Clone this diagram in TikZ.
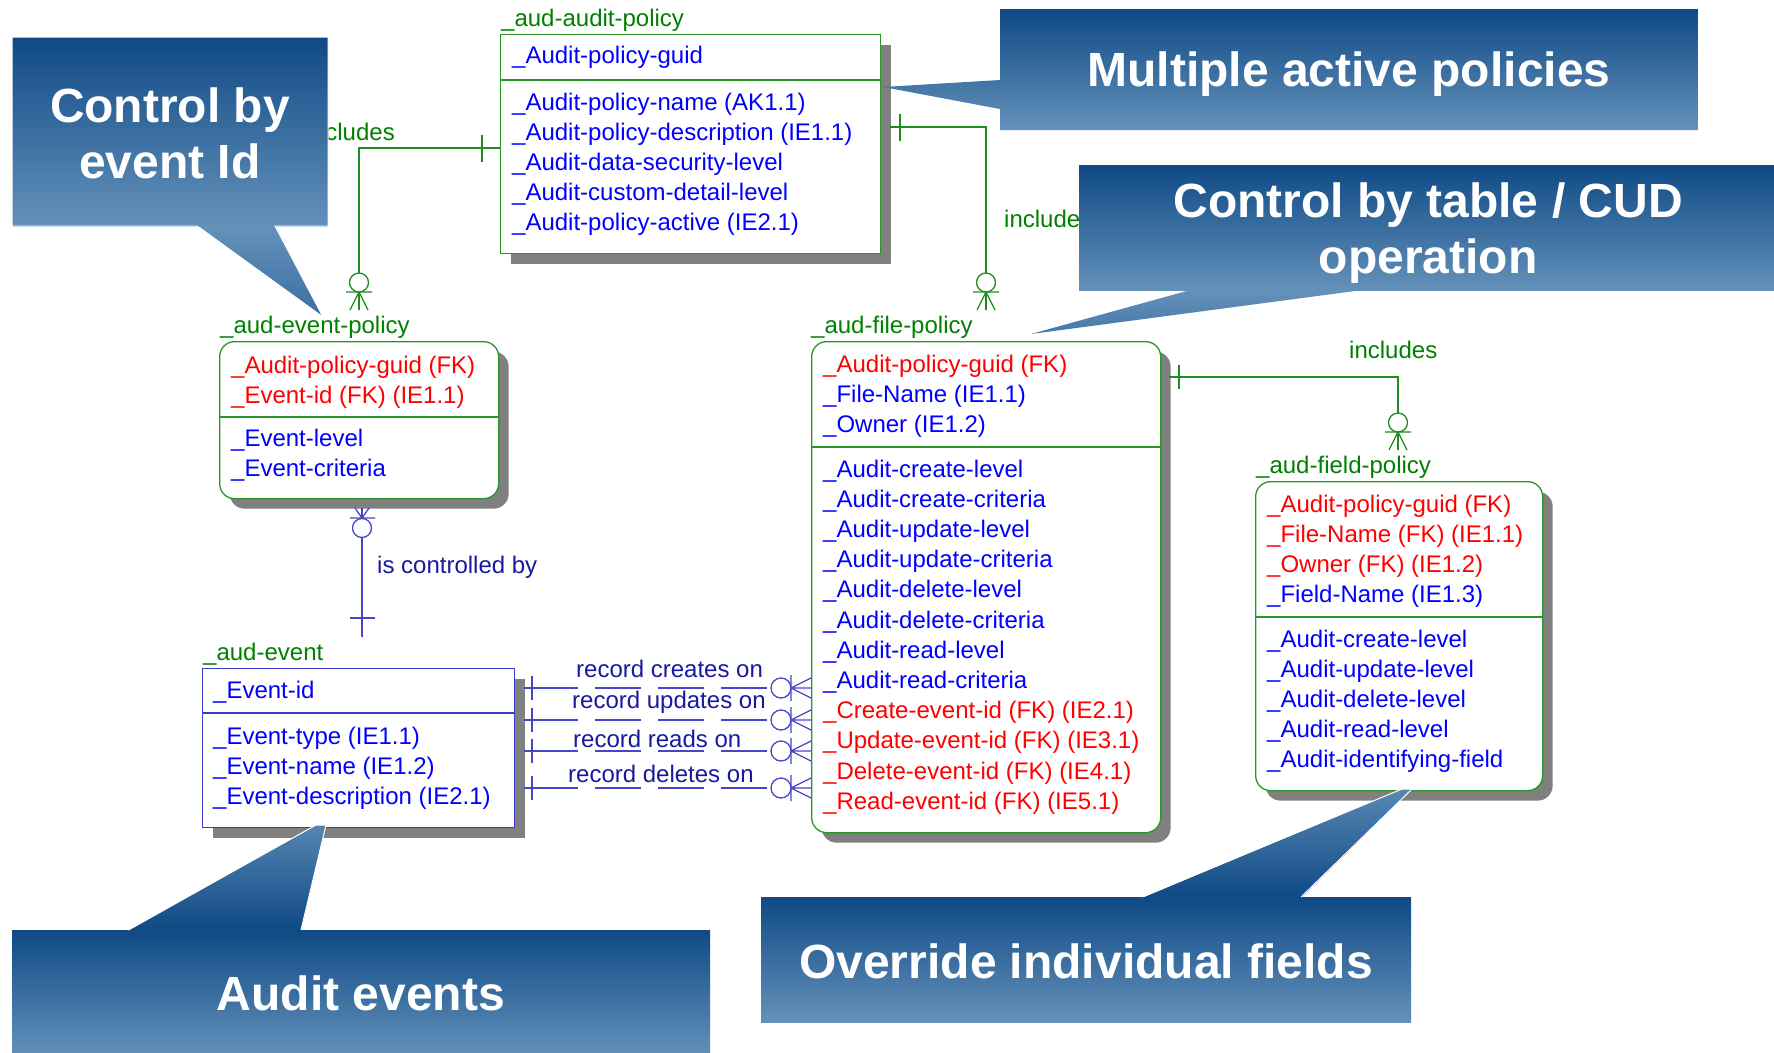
\documentclass[tikz,border=0pt]{standalone}
\usepackage{fontspec}
\setmainfont{Liberation Sans}
\usetikzlibrary{shadows}

\definecolor{entgreen}{RGB}{40,150,40}
\definecolor{ergreen}{RGB}{0,128,0}
\definecolor{attrblue}{RGB}{0,0,255}
\definecolor{attrred}{RGB}{255,0,0}
\definecolor{entblue}{RGB}{60,60,200}
\definecolor{relgreen}{RGB}{30,140,30}
\definecolor{relline}{RGB}{70,70,200}
\definecolor{relnavy}{RGB}{25,25,160}
\definecolor{shadowgray}{RGB}{128,128,128}
\definecolor{calldark}{RGB}{15,74,133}
\definecolor{calllight}{RGB}{100,145,186}

\tikzset{
  attr/.style={font=\fontsize{24}{30}\selectfont, inner sep=0pt, anchor=base west},
  entbox/.style={draw=entgreen, fill=white, line width=1.3pt, inner sep=0pt,
    anchor=north west,
    drop shadow={shadow xshift=10pt, shadow yshift=-10pt, fill=shadowgray, opacity=1}},
  roundbox/.style={entbox, rounded corners=15pt},
  divider/.style={line width=1.3pt},
  grrel/.style={draw=relgreen, line width=1.3pt},
  nvrel/.style={draw=relline, line width=1.3pt},
  calltext/.style={font=\fontsize{48}{56}\selectfont\bfseries, text=white,
    inner sep=0pt, anchor=base},
  callrim/.style={draw=white, line width=1pt},
}

% one attribute line: name, x, baseline y, colour, text
\newcommand{\attrline}[5]{\node[attr, text=#4] (#1) at (#2,#3) {#5};}
% zero-or-more end, entity edge below the line end at (x,y)
\newcommand{\zmDown}[3]{%
  \draw[#1] (#2-9,#3) -- (#2,#3-18) -- (#2+9,#3) (#2,#3) -- (#2,#3-18)
            (#2-13,#3-18) -- (#2+13,#3-18);
  \draw[#1, fill=white] (#2,#3-27.5) circle[radius=9.5pt];}
% zero-or-more end, entity edge to the right of the line end at (x,y)
\newcommand{\zmRight}[3]{%
  \draw[#1] (#2,#3-10) -- (#2-20,#3) -- (#2,#3+10) (#2-20,#3) -- (#2,#3)
            (#2-20,#3-13) -- (#2-20,#3+13);
  \draw[#1, fill=white] (#2-30,#3) circle[radius=10pt];}

\begin{document}
\begin{tikzpicture}[x=1pt,y=-1pt]
\useasboundingbox (0,0) rectangle (1774,1052);
\clip (0,0) rectangle (1774,1052);
\fill[white] (0,0) rectangle (1774,1052);

% ---------------- entity boxes ----------------
\node[entbox, minimum width=380pt, minimum height=219pt] (ap) at (500,34) {};
\node[roundbox, minimum width=279pt, minimum height=157pt] (ep) at (219,341) {};
\node[entbox, draw=entblue, minimum width=312pt, minimum height=159pt] (ev) at (202,668) {};
\node[roundbox, minimum width=349pt, minimum height=491pt] (fp) at (811,341) {};
\node[roundbox, minimum width=287pt, minimum height=309pt] (fd) at (1255,481) {};

\draw[divider, entgreen] (500,80) -- (880,80);
\draw[divider, entgreen] (219,417) -- (498,417);
\draw[divider, entblue] (202,713) -- (514,713);
\draw[divider, entgreen] (811,447) -- (1160,447);
\draw[divider, entgreen] (1255,617) -- (1542,617);

% ---------------- entity names ----------------
\attrline{apname}{501}{27}{ergreen}{\_aud-audit-policy}
\attrline{epname}{220}{333}{ergreen}{\_aud-event-policy}
\attrline{evname}{203}{660}{ergreen}{\_aud-event}
\attrline{fpname}{811}{333}{ergreen}{\_aud-file-policy}
\attrline{fdname}{1256}{473}{ergreen}{\_aud-field-policy}

% ---------------- attributes ----------------
\attrline{ap1}{512}{63}{attrblue}{\_Audit-policy-guid}
\attrline{ap2}{512}{110}{attrblue}{\_Audit-policy-name (AK1.1)}
\attrline{ap3}{512}{140}{attrblue}{\_Audit-policy-description (IE1.1)}
\attrline{ap4}{512}{170}{attrblue}{\_Audit-data-security-level}
\attrline{ap5}{512}{200}{attrblue}{\_Audit-custom-detail-level}
\attrline{ap6}{512}{230}{attrblue}{\_Audit-policy-active (IE2.1)}

\attrline{ep1}{231}{373}{attrred}{\_Audit-policy-guid (FK)}
\attrline{ep2}{231}{403}{attrred}{\_Event-id (FK) (IE1.1)}
\attrline{ep3}{231}{446}{attrblue}{\_Event-level}
\attrline{ep4}{231}{476}{attrblue}{\_Event-criteria}

\attrline{ev1}{213}{698}{attrblue}{\_Event-id}
\attrline{ev2}{213}{744}{attrblue}{\_Event-type (IE1.1)}
\attrline{ev3}{213}{774}{attrblue}{\_Event-name (IE1.2)}
\attrline{ev4}{213}{804}{attrblue}{\_Event-description (IE2.1)}

\attrline{fp1}{823}{372}{attrred}{\_Audit-policy-guid (FK)}
\attrline{fp2}{823}{402}{attrblue}{\_File-Name (IE1.1)}
\attrline{fp3}{823}{432}{attrblue}{\_Owner (IE1.2)}
\attrline{fp4}{823}{477}{attrblue}{\_Audit-create-level}
\attrline{fp5}{823}{507.2}{attrblue}{\_Audit-create-criteria}
\attrline{fp6}{823}{537.4}{attrblue}{\_Audit-update-level}
\attrline{fp7}{823}{567.6}{attrblue}{\_Audit-update-criteria}
\attrline{fp8}{823}{597.8}{attrblue}{\_Audit-delete-level}
\attrline{fp9}{823}{628}{attrblue}{\_Audit-delete-criteria}
\attrline{fp10}{823}{658.2}{attrblue}{\_Audit-read-level}
\attrline{fp11}{823}{688.4}{attrblue}{\_Audit-read-criteria}
\attrline{fp12}{823}{718.6}{attrred}{\_Create-event-id (FK) (IE2.1)}
\attrline{fp13}{823}{748.8}{attrred}{\_Update-event-id (FK) (IE3.1)}
\attrline{fp14}{823}{779}{attrred}{\_Delete-event-id (FK) (IE4.1)}
\attrline{fp15}{823}{809.2}{attrred}{\_Read-event-id (FK) (IE5.1)}

\attrline{fd1}{1267}{512}{attrred}{\_Audit-policy-guid (FK)}
\attrline{fd2}{1267}{542}{attrred}{\_File-Name (FK) (IE1.1)}
\attrline{fd3}{1267}{572}{attrred}{\_Owner (FK) (IE1.2)}
\attrline{fd4}{1267}{602}{attrblue}{\_Field-Name (IE1.3)}
\attrline{fd5}{1267}{647}{attrblue}{\_Audit-create-level}
\attrline{fd6}{1267}{677}{attrblue}{\_Audit-update-level}
\attrline{fd7}{1267}{707}{attrblue}{\_Audit-delete-level}
\attrline{fd8}{1267}{737}{attrblue}{\_Audit-read-level}
\attrline{fd9}{1267}{767}{attrblue}{\_Audit-identifying-field}

% ---------------- relationships ----------------
% audit policy -> event policy
\coordinate (r1a) at (500,148);
\coordinate (r1b) at (359,310);
\draw[grrel] (r1a) -| (r1b);
\draw[grrel] (482,135) -- (482,162);
\zmDown{grrel}{359}{310}
\node[attr, anchor=base east, text=ergreen] (inc1) at (395,140) {includes};

% audit policy -> file policy
\coordinate (r2a) at (890,127);
\coordinate (r2b) at (986,310);
\draw[grrel] (r2a) -| (r2b);
\draw[grrel] (900,114) -- (900,141);
\zmDown{grrel}{986}{310}
\node[attr, text=ergreen] (inc2) at (1004,227) {includes};

% file policy -> field policy
\coordinate (r3a) at (1169,377);
\coordinate (r3b) at (1398,450);
\draw[grrel] (r3a) -| (r3b);
\draw[grrel] (1179,365) -- (1179,389);
\zmDown{grrel}{1398}{450}
\node[attr, text=ergreen] (inc3) at (1349,358) {includes};

% event -> event policy
\coordinate (r4a) at (362,637);
\coordinate (r4b) at (362,508);
\draw[nvrel] (r4a) -- (r4b);
\draw[nvrel] (350,618) -- (375,618);
\draw[nvrel] (355,508) -- (362,518) -- (369,508) (350,518) -- (375,518);
\draw[nvrel, fill=white] (362,528) circle[radius=9.5pt];
\node[attr, text=relnavy] (ctl) at (377,573) {is controlled by};

% event -> file policy (four roles)
\foreach \yy/\nm in {688/c, 720/u, 751/r, 788/d}{
  \coordinate (e\nm) at (524,\yy);
  \coordinate (b\nm) at (532,\yy);
  \coordinate (f\nm) at (791,\yy);
  \draw[nvrel] (e\nm) -- (b\nm);
  \draw[nvrel, dash pattern=on 46pt off 17pt] (b\nm) -- (f\nm);
  \draw[nvrel] (532,\yy-12) -- (532,\yy+12);
  \zmRight{nvrel}{811}{\yy}
}
\node[attr, text=relnavy] (lc) at (576,677) {record creates on};
\node[attr, text=relnavy] (lu) at (572,708) {record updates on};
\node[attr, text=relnavy] (lr) at (573,747) {record reads on};
\node[attr, text=relnavy] (ld) at (568,782) {record deletes on};

% ---------------- callouts ----------------
% Control by event Id
\shade[top color=calldark, bottom color=calllight] (12,37) rectangle (328,226);
\begin{scope}
  \clip (197,225) -- (323,317) -- (275,225) -- cycle;
  \shade[top color=calllight, bottom color=calldark] (190,226) rectangle (335,415);
\end{scope}
\draw[callrim] (12,37) -- (328,37) -- (328,226) -- (275,226) -- (323,317) -- (197,226) -- (12,226) -- cycle;
\node[calltext] (cA1) at (170,122) {Control by};
\node[calltext] (cA2) at (170,178) {event Id};

% Multiple active policies
\shade[top color=calldark, bottom color=calllight]
  (1000,9) -- (1698,9) -- (1698,130) -- (1000,130) -- (1000,109) -- (883,87) -- (1000,80) -- cycle;
\node[calltext] (cB) at (1349,86) {Multiple active policies};

% Control by table / CUD operation
\shade[top color=calldark, bottom color=calllight] (1079,165) rectangle (1800,290);
\begin{scope}
  \clip (1194,289) -- (1031,334) -- (1370,289) -- cycle;
  \shade[top color=calllight, bottom color=calldark] (1020,290) rectangle (1380,415);
\end{scope}
\node[calltext] (cC1) at (1428,217) {Control by table / CUD};
\node[calltext] (cC2) at (1428,273) {operation};

% Audit events
\shade[top color=calldark, bottom color=calllight] (12,930) rectangle (710,1056);
\begin{scope}
  \clip (128,931) -- (316,825) -- (326,825) -- (301,931) -- cycle;
  \shade[top color=calllight, bottom color=calldark] (120,804) rectangle (335,930);
\end{scope}
\draw[callrim] (128,930) -- (316,825) -- (326,825) -- (301,930);
\node[calltext] (cD) at (361,1010) {Audit events};

% Override individual fields
\shade[top color=calldark, bottom color=calllight] (761,897) rectangle (1411,1022);
\begin{scope}
  \clip (1142,898) -- (1402,789) -- (1412,789) -- (1301,898) -- cycle;
  \shade[top color=calllight, bottom color=calldark] (1130,772) rectangle (1420,897);
\end{scope}
\draw[callrim] (1142,897) -- (1402,789) -- (1412,789) -- (1301,897);
\node[calltext] (cE) at (1086,978) {Override individual fields};
\end{tikzpicture}
\end{document}
